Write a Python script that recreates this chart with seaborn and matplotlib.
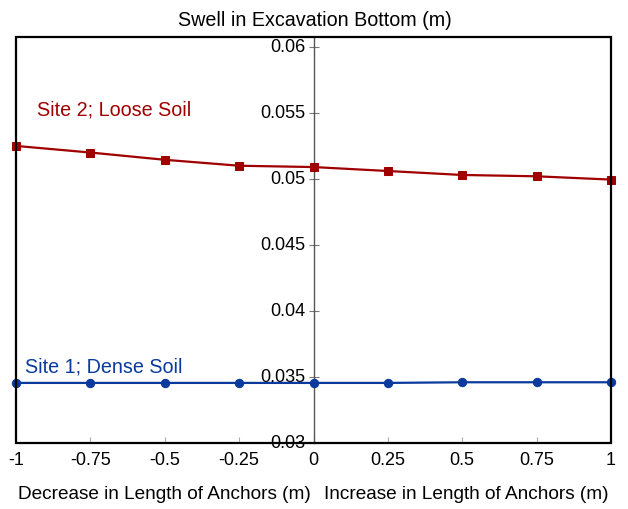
import numpy as np
import pandas as pd
import matplotlib
matplotlib.use("Agg")
import matplotlib.pyplot as plt
from matplotlib.patches import Rectangle
import seaborn as sns

# Change in anchor length (m) and resulting swell at excavation bottom (m)
length_change = [-1.0, -0.75, -0.5, -0.25, 0.0, 0.25, 0.5, 0.75, 1.0]
swell_site2_loose = [0.0525, 0.0520, 0.05145, 0.0510, 0.0509, 0.0506, 0.0503, 0.0502, 0.04995]
swell_site1_dense = [0.03455, 0.03455, 0.03455, 0.03455, 0.03455, 0.03455, 0.0346, 0.0346, 0.0346]
x_ticks = [-1, -0.75, -0.5, -0.25, 0, 0.25, 0.5, 0.75, 1]
x_tick_labels = ["-1", "-0.75", "-0.5", "-0.25", "0", "0.25", "0.5", "0.75", "1"]
y_ticks = [0.03, 0.035, 0.04, 0.045, 0.05, 0.055, 0.06]
y_tick_labels = ["0.03", "0.035", "0.04", "0.045", "0.05", "0.055", "0.06"]

sns.set_theme(style="white")
plt.rcParams["font.family"] = ["Liberation Sans", "DejaVu Sans"]
plt.rcParams["text.color"] = "black"

RED = "#a00000"
BLUE = "#0a3a9e"
LABEL_FS = 14.2
XLABEL_FS = 13.7
TICK_FS = 13

df = pd.DataFrame({
    "x": length_change * 2,
    "swell": swell_site2_loose + swell_site1_dense,
    "site": ["Site 2; Loose Soil"] * len(length_change) + ["Site 1; Dense Soil"] * len(length_change),
})

fig = plt.figure(figsize=(6.28, 5.10), dpi=100)
ax = fig.add_axes([16 / 628, 66 / 510, 595 / 628, 406 / 510])

sns.lineplot(data=df, x="x", y="swell", hue="site", style="site",
             palette={"Site 2; Loose Soil": RED, "Site 1; Dense Soil": BLUE},
             markers={"Site 2; Loose Soil": "s", "Site 1; Dense Soil": "o"},
             dashes=False, markersize=6, linewidth=1.6, legend=False, ax=ax,
             clip_on=False, zorder=3)
for ln in ax.lines:
    ln.set_markeredgecolor(ln.get_color())

ax.set_xlim(-1, 1)
ax.set_ylim(0.03, 0.06075)

# Vertical axis runs through x = 0 with ticks crossing it
ax.spines["left"].set_position(("data", 0))
ax.spines["left"].set_color("#555555")
ax.spines["left"].set_linewidth(1.0)
ax.spines["left"].set_zorder(2)
for s in ["top", "right", "bottom"]:
    ax.spines[s].set_visible(False)
ax.add_patch(Rectangle((0, 0), 1, 1, transform=ax.transAxes, fill=False,
                       edgecolor="black", linewidth=1.6, clip_on=False, zorder=4))

ax.set_yticks(y_ticks)
ax.set_yticklabels(y_tick_labels, fontsize=TICK_FS, color="black")
ax.tick_params(axis="y", direction="inout", length=7, width=0.8, color="#777777", pad=2, left=True)
ax.set_xticks(x_ticks)
ax.set_xticklabels(x_tick_labels, fontsize=TICK_FS, color="black")
ax.tick_params(axis="x", direction="in", length=4, width=0.8, color="#aaaaaa", pad=6, bottom=True)
for lbl in ax.get_yticklabels():
    lbl.set_verticalalignment("center")

ax.set_xlabel("")
ax.set_ylabel("")
ax.grid(False)

fig.text(315 / 628, 1 - 21 / 510, "Swell in Excavation Bottom (m)", ha="center", va="center",
         fontsize=LABEL_FS, color="black")
fig.text(164 / 628, 1 - 495 / 510, "Decrease in Length of Anchors (m)", ha="center", va="center",
         fontsize=XLABEL_FS, color="black")
fig.text(466 / 628, 1 - 495 / 510, "Increase in Length of Anchors (m)", ha="center", va="center",
         fontsize=XLABEL_FS, color="black")

ax.text(-0.93, 0.0553, "Site 2; Loose Soil", color=RED, fontsize=LABEL_FS, ha="left", va="center")
ax.text(-0.97, 0.0358, "Site 1; Dense Soil", color=BLUE, fontsize=LABEL_FS, ha="left", va="center")

fig.savefig("out.png", dpi=100)
